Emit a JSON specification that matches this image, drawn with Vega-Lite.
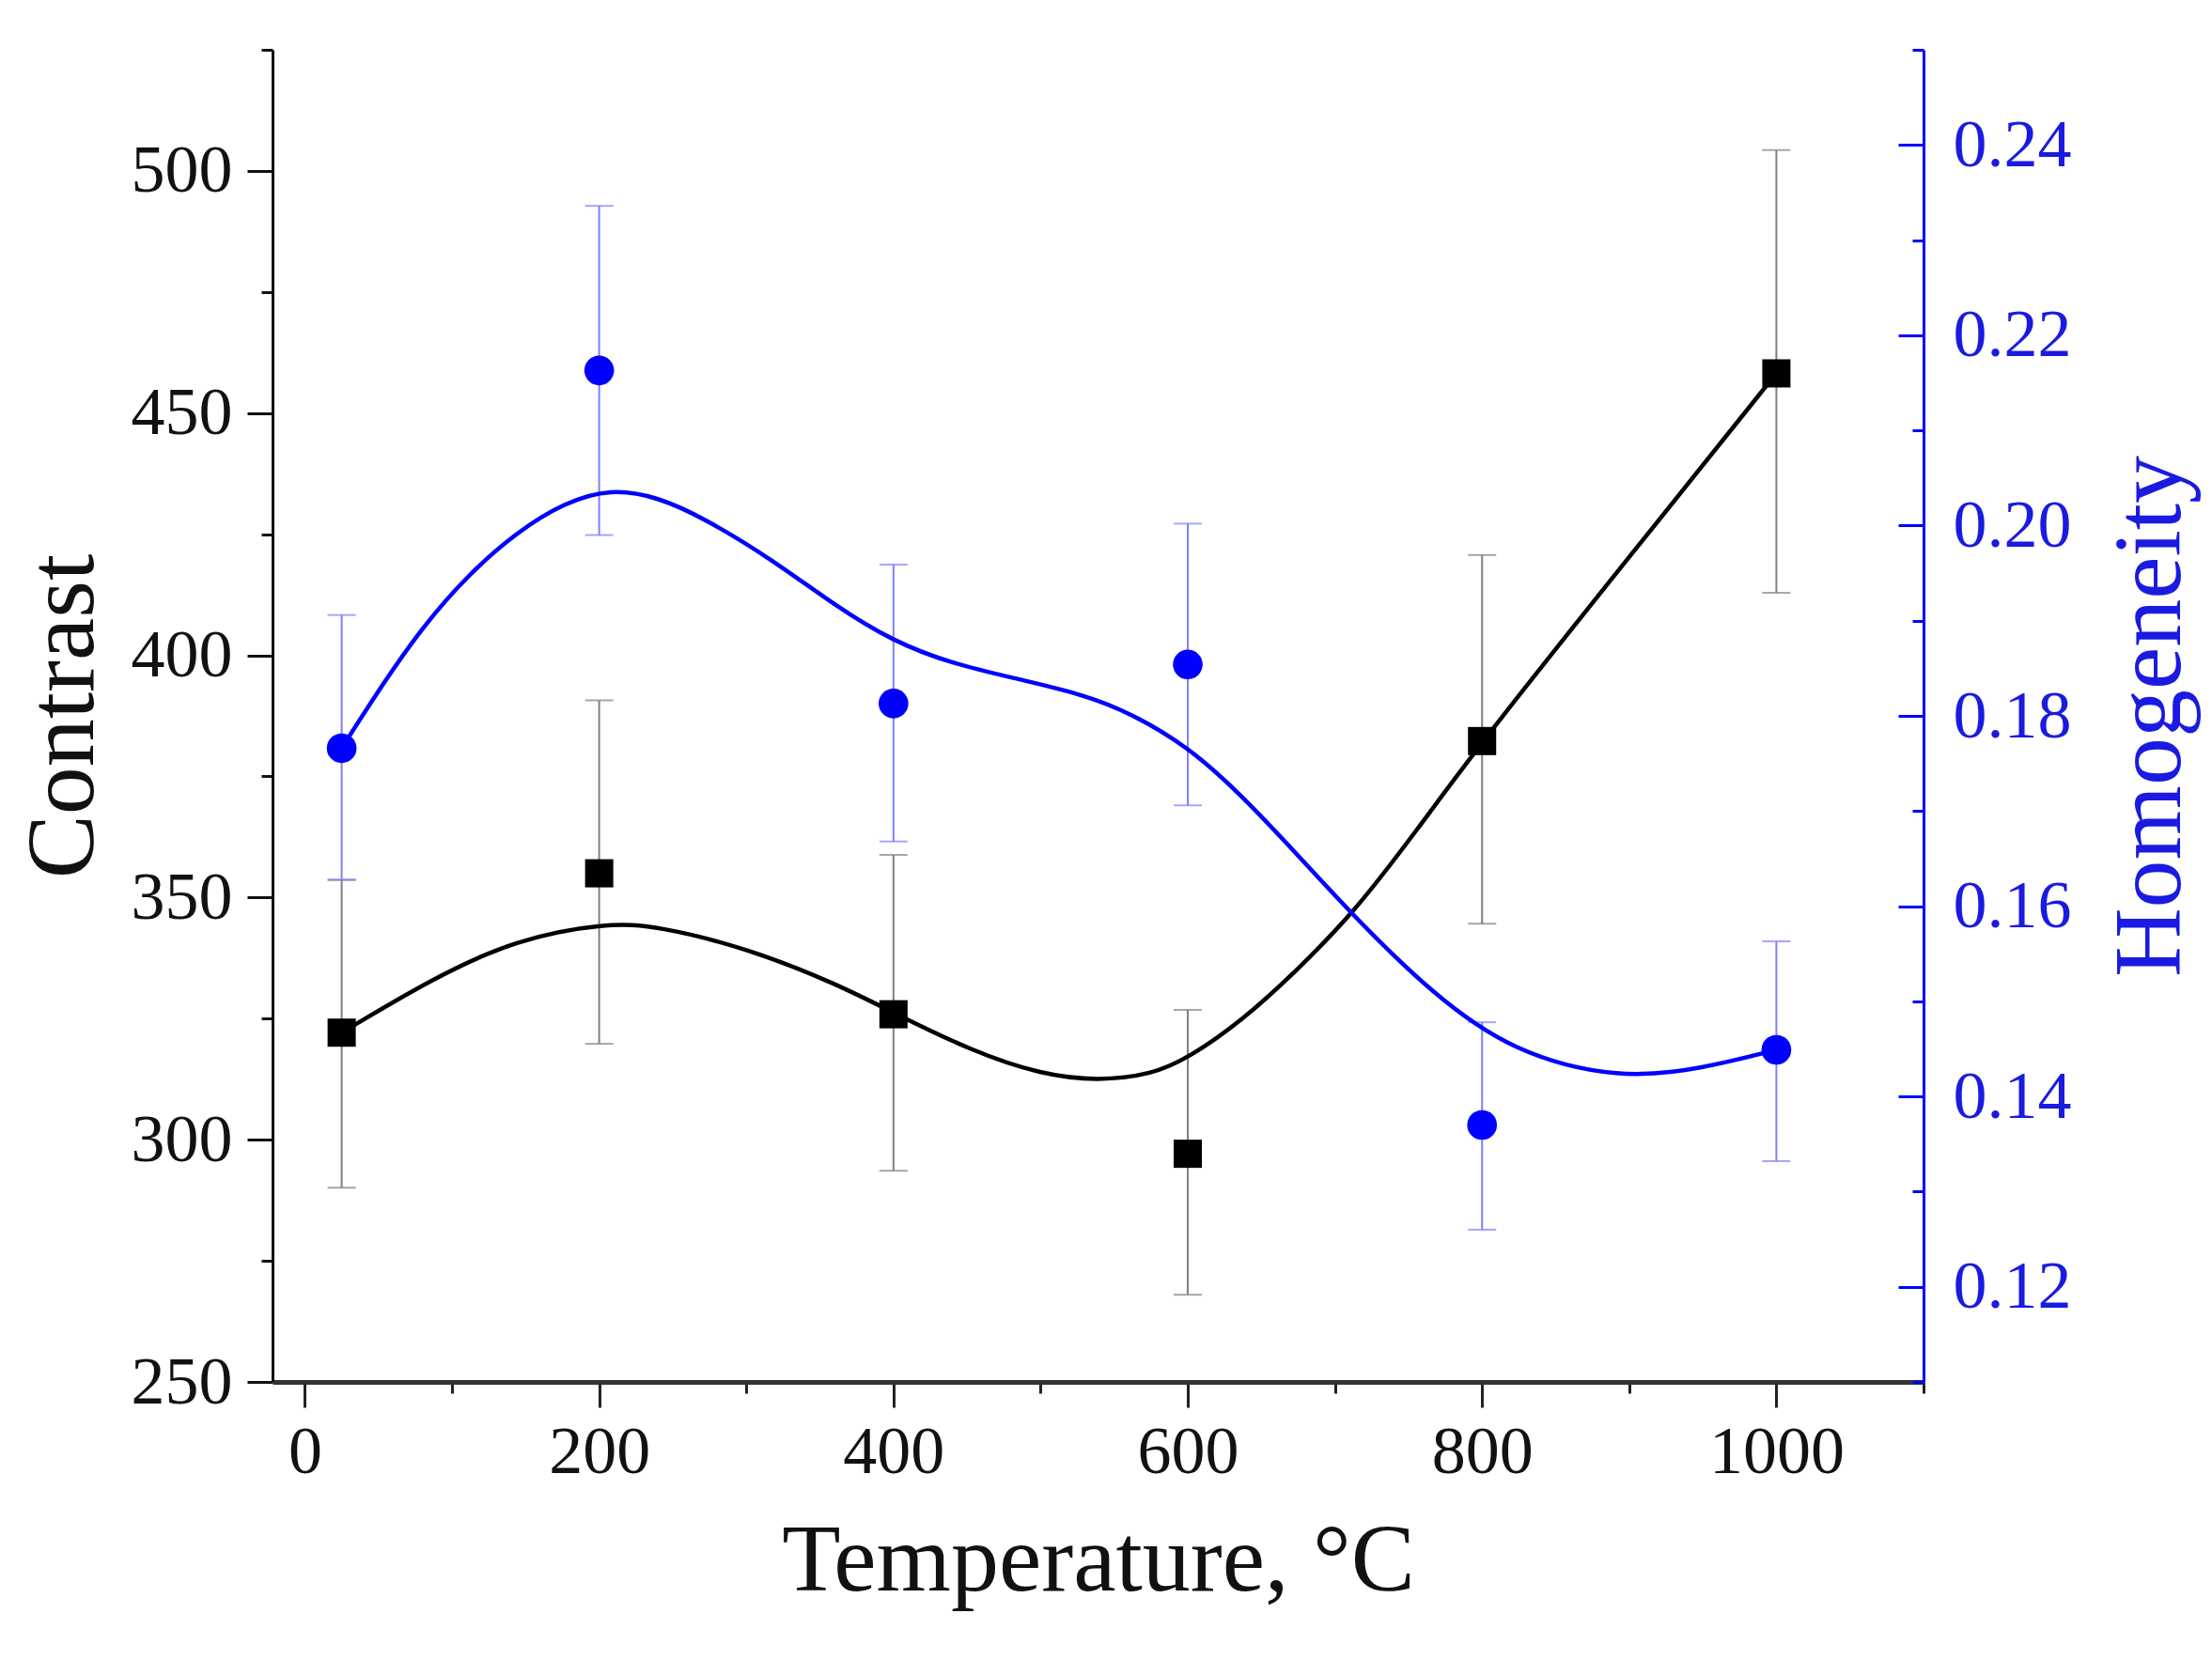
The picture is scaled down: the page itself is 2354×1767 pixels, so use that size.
{
  "$schema": "https://vega.github.io/schema/vega-lite/v6.json",
  "width": 1757,
  "height": 1418,
  "autosize": {"type": "none"},
  "padding": {"left": 290, "top": 53, "right": 307, "bottom": 296},
  "background": "white",
  "config": {
    "view": {"stroke": null},
    "font": "Liberation Serif",
    "axis": {
      "grid": false,
      "labelFont": "Liberation Serif",
      "titleFont": "Liberation Serif",
      "labelFontSize": 72,
      "titleFontSize": 102,
      "titleFontWeight": "normal",
      "tickWidth": 3,
      "domainWidth": 3
    }
  },
  "datasets": {
    "points": [
      {"T": 25, "contrast": 322.1, "cLo": 290.1, "cHi": 353.6, "homogeneity": 0.1766, "hLo": 0.1628, "hHi": 0.1906},
      {"T": 200, "contrast": 355.0, "cLo": 319.8, "cHi": 390.7, "homogeneity": 0.2163, "hLo": 0.1990, "hHi": 0.2336},
      {"T": 400, "contrast": 325.9, "cLo": 293.6, "cHi": 358.8, "homogeneity": 0.1813, "hLo": 0.1668, "hHi": 0.1959},
      {"T": 600, "contrast": 297.1, "cLo": 268.0, "cHi": 326.8, "homogeneity": 0.1854, "hLo": 0.1706, "hHi": 0.2002},
      {"T": 800, "contrast": 382.3, "cLo": 344.6, "cHi": 420.7, "homogeneity": 0.1370, "hLo": 0.1260, "hHi": 0.1478},
      {"T": 1000, "contrast": 458.2, "cLo": 412.9, "cHi": 504.3, "homogeneity": 0.1449, "hLo": 0.1332, "hHi": 0.1563}
    ],
    "cfit": [
      {"T": 25, "contrast": 322.1},
      {"T": 88, "contrast": 333.5},
      {"T": 143, "contrast": 341.3},
      {"T": 205, "contrast": 344.8},
      {"T": 240, "contrast": 344.1},
      {"T": 301, "contrast": 339.5},
      {"T": 362, "contrast": 332.1},
      {"T": 400, "contrast": 326.2},
      {"T": 454, "contrast": 318.2},
      {"T": 500, "contrast": 313.5},
      {"T": 539, "contrast": 312.1},
      {"T": 576, "contrast": 313.5},
      {"T": 600, "contrast": 316.8},
      {"T": 637, "contrast": 324.6},
      {"T": 674, "contrast": 334.9},
      {"T": 713, "contrast": 346.9},
      {"T": 755, "contrast": 363.6},
      {"T": 800, "contrast": 382.3},
      {"T": 900, "contrast": 420.3},
      {"T": 1000, "contrast": 458.2}
    ],
    "hfit": [
      {"T": 25, "homogeneity": 0.1766},
      {"T": 48, "homogeneity": 0.1822},
      {"T": 80, "homogeneity": 0.1894},
      {"T": 112, "homogeneity": 0.1950},
      {"T": 144, "homogeneity": 0.1993},
      {"T": 176, "homogeneity": 0.2024},
      {"T": 208, "homogeneity": 0.2039},
      {"T": 240, "homogeneity": 0.2030},
      {"T": 271, "homogeneity": 0.2008},
      {"T": 316, "homogeneity": 0.1966},
      {"T": 362, "homogeneity": 0.1914},
      {"T": 399, "homogeneity": 0.1879},
      {"T": 439, "homogeneity": 0.1855},
      {"T": 484, "homogeneity": 0.1839},
      {"T": 530, "homogeneity": 0.1822},
      {"T": 561, "homogeneity": 0.1803},
      {"T": 600, "homogeneity": 0.1768},
      {"T": 637, "homogeneity": 0.1716},
      {"T": 674, "homogeneity": 0.1655},
      {"T": 713, "homogeneity": 0.1589},
      {"T": 766, "homogeneity": 0.1508},
      {"T": 821, "homogeneity": 0.1446},
      {"T": 894, "homogeneity": 0.1418},
      {"T": 949, "homogeneity": 0.1429},
      {"T": 1000, "homogeneity": 0.1449}
    ]
  },
  "encoding": {
    "x": {
      "field": "T",
      "type": "quantitative",
      "scale": {"domain": [-22, 1100], "nice": false, "zero": false},
      "axis": {
        "title": "Temperature, °C",
        "values": [0, 100, 200, 300, 400, 500, 600, 700, 800, 900, 1000, 1100],
        "format": "d",
        "labelExpr": "datum.value % 200 == 0 ? datum.label : ''",
        "tickSize": {"condition": {"test": "datum.value % 200 == 0", "value": 27}, "value": 12},
        "labelPadding": 12,
        "titlePadding": 30,
        "domainWidth": 5,
        "domainColor": "#333333",
        "tickColor": "#222222",
        "labelColor": "#111111",
        "titleColor": "#111111"
      }
    }
  },
  "layer": [
    {
      "layer": [
        {
          "data": {"name": "points"},
          "mark": {"type": "rule", "color": "#808080", "strokeWidth": 2},
          "encoding": {
            "y": {
              "field": "cLo",
              "type": "quantitative",
              "scale": {"domain": [250, 525], "nice": false, "zero": false},
              "axis": {
                "title": "Contrast",
                "orient": "left",
                "values": [250, 275, 300, 325, 350, 375, 400, 425, 450, 475, 500, 525],
                "labelExpr": "datum.value % 50 == 0 ? datum.label : ''",
                "tickSize": {"condition": {"test": "datum.value % 50 == 0", "value": 27}, "value": 12},
                "labelPadding": 16,
                "titlePadding": 20,
                "domainColor": "#111111",
                "tickColor": "#111111",
                "labelColor": "#111111",
                "titleColor": "#111111"
              }
            },
            "y2": {"field": "cHi"}
          }
        },
        {
          "data": {"name": "points"},
          "mark": {"type": "tick", "orient": "horizontal", "size": 30, "thickness": 2, "color": "#808080"},
          "encoding": {"y": {"field": "cHi", "type": "quantitative"}}
        },
        {
          "data": {"name": "points"},
          "mark": {"type": "tick", "orient": "horizontal", "size": 30, "thickness": 2, "color": "#808080"},
          "encoding": {"y": {"field": "cLo", "type": "quantitative"}}
        },
        {
          "data": {"name": "cfit"},
          "mark": {"type": "line", "color": "#000000", "strokeWidth": 4.5, "interpolate": "basis"},
          "encoding": {"y": {"field": "contrast", "type": "quantitative"}}
        },
        {
          "data": {"name": "points"},
          "mark": {"type": "point", "shape": "square", "filled": true, "size": 900, "color": "#000000", "opacity": 1},
          "encoding": {"y": {"field": "contrast", "type": "quantitative"}}
        }
      ]
    },
    {
      "layer": [
        {
          "data": {"name": "points"},
          "mark": {"type": "rule", "color": "#7f7fff", "strokeWidth": 2},
          "encoding": {
            "y": {
              "field": "hLo",
              "type": "quantitative",
              "scale": {"domain": [0.11, 0.25], "nice": false, "zero": false},
              "axis": {
                "title": "Homogeneity",
                "orient": "right",
                "titleAngle": 270,
                "titleBaseline": "top",
                "values": [0.11, 0.12, 0.13, 0.14, 0.15, 0.16, 0.17, 0.18, 0.19, 0.2, 0.21, 0.22, 0.23, 0.24, 0.25],
                "format": ".2f",
                "labelExpr": "round(datum.value * 100) % 2 == 0 ? datum.label : ''",
                "tickSize": {"condition": {"test": "round(datum.value * 100) % 2 == 0", "value": -27}, "value": -12},
                "labelPadding": 58,
                "titlePadding": 34,
                "domainColor": "#0000ff",
                "tickColor": "#0000ff",
                "labelColor": "#1a1ae0",
                "titleColor": "#1a1ae0"
              }
            },
            "y2": {"field": "hHi"}
          }
        },
        {
          "data": {"name": "points"},
          "mark": {"type": "tick", "orient": "horizontal", "size": 30, "thickness": 2, "color": "#7f7fff"},
          "encoding": {"y": {"field": "hHi", "type": "quantitative"}}
        },
        {
          "data": {"name": "points"},
          "mark": {"type": "tick", "orient": "horizontal", "size": 30, "thickness": 2, "color": "#7f7fff"},
          "encoding": {"y": {"field": "hLo", "type": "quantitative"}}
        },
        {
          "data": {"name": "hfit"},
          "mark": {"type": "line", "color": "#0000ff", "strokeWidth": 4.5, "interpolate": "basis"},
          "encoding": {"y": {"field": "homogeneity", "type": "quantitative"}}
        },
        {
          "data": {"name": "points"},
          "mark": {"type": "point", "shape": "circle", "filled": true, "size": 1000, "color": "#0000ff", "opacity": 1},
          "encoding": {"y": {"field": "homogeneity", "type": "quantitative"}}
        }
      ]
    }
  ],
  "resolve": {"scale": {"y": "independent"}, "axis": {"y": "independent"}}
}
